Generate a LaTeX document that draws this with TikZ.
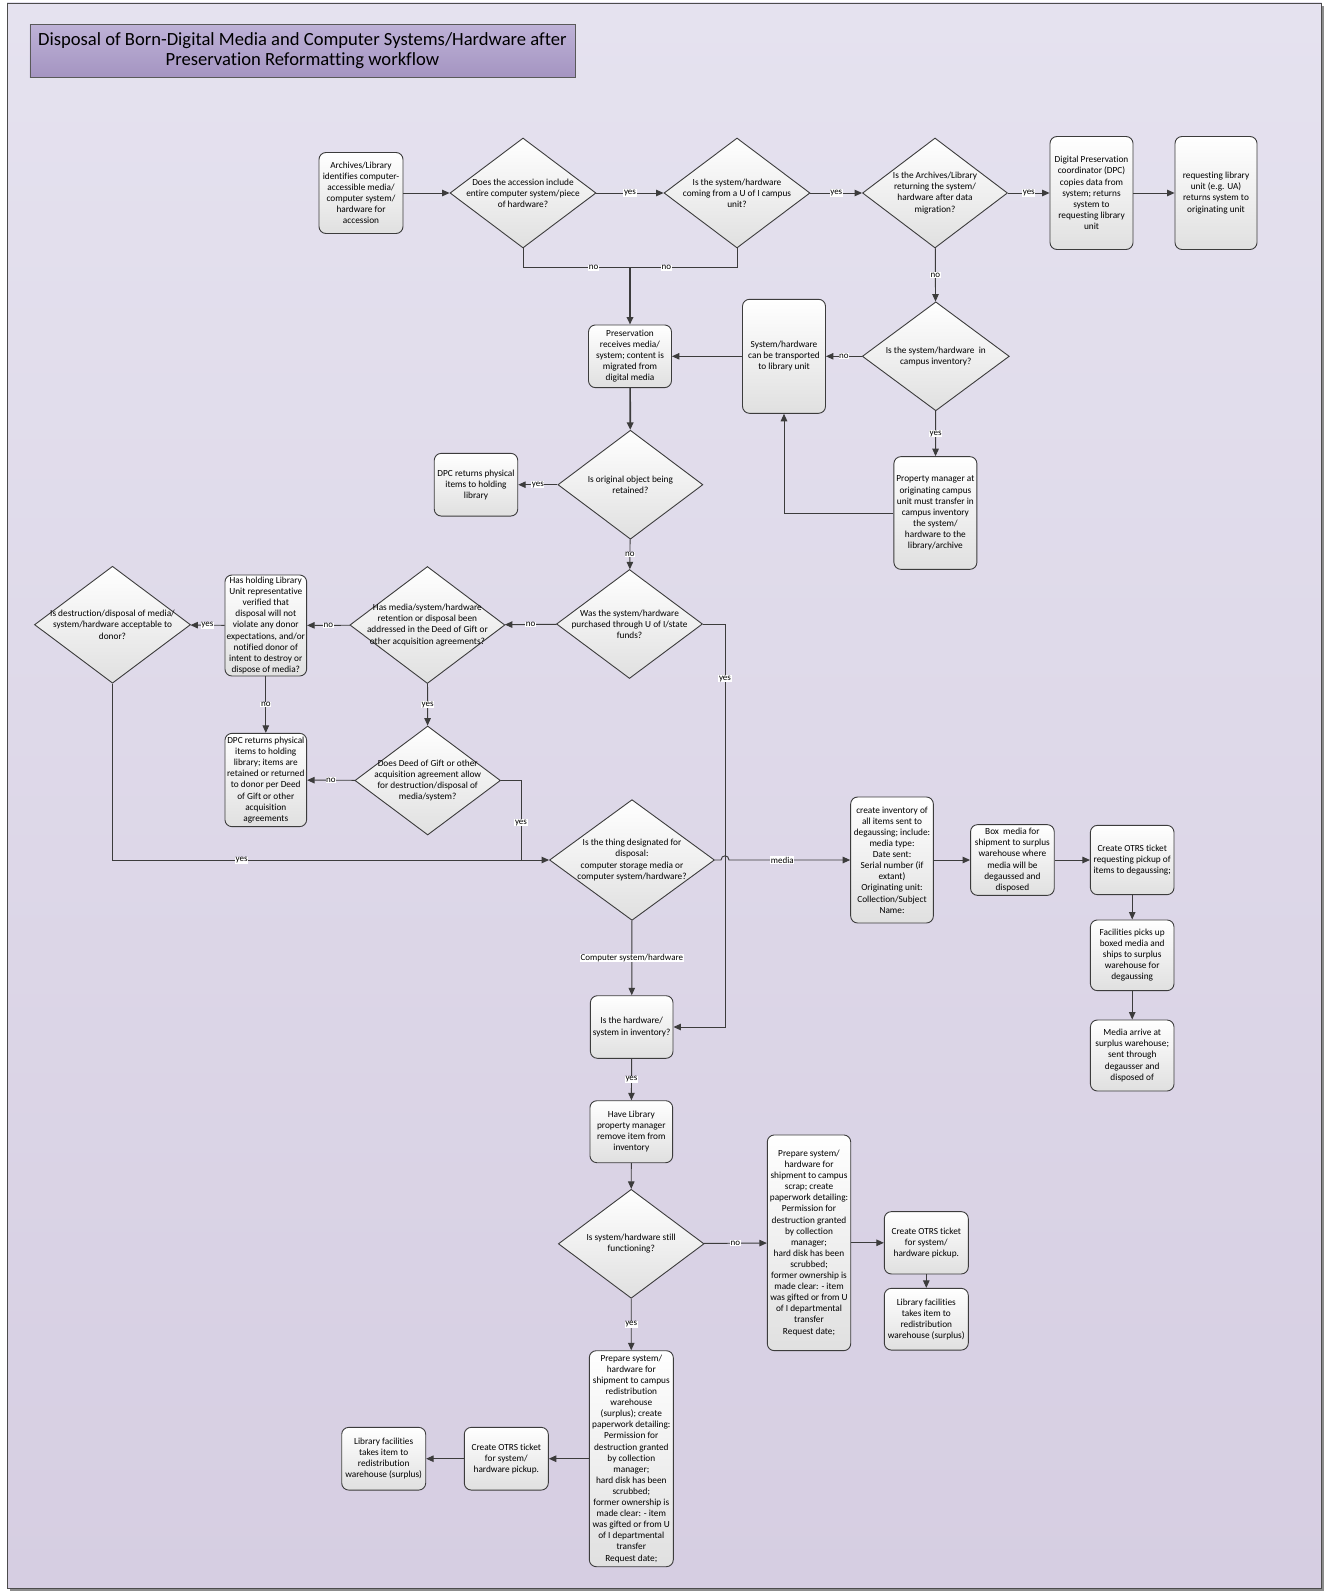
\documentclass[tikz,border=0pt]{standalone}
\usepackage{fontspec}
\setmainfont{Carlito}[Ligatures=NoCommon]
\usetikzlibrary{shapes.geometric,arrows.meta,calc}
\definecolor{bgtop}{HTML}{E5E2EF}
\definecolor{bgbot}{HTML}{D6CEE2}
\definecolor{ttop}{HTML}{BEB2D7}
\definecolor{tbot}{HTML}{A494C1}
\definecolor{edgec}{HTML}{3C3C3C}
\definecolor{nfill}{HTML}{E0E0E0}
\begin{document}
\begin{tikzpicture}[x=1pt,y=-1pt,
  every node/.style={font=\fontsize{9.3}{11.1}\selectfont, text=black},
  box/.style={draw=edgec, line width=0.9pt, rounded corners=7pt, top color=white, bottom color=nfill, align=center, inner xsep=1pt, inner ysep=2pt},
  dia/.style={diamond, draw=edgec, line width=0.9pt, top color=white, bottom color=nfill, align=center, inner xsep=-45pt, inner ysep=-25pt},
  ln/.style={draw=edgec, line width=0.95pt},
  con/.style={ln, -{Triangle[length=7.5pt,width=6.5pt]}},
  bold/.style={line width=1.7pt},
  lbl/.style={fill=white, inner sep=0.6pt, font=\fontsize{9}{10}\selectfont},
]
\useasboundingbox (0,0) rectangle (1324,1595);
% frame
\fill[black!45] (10,6) rectangle (1324,1590.5);
\path[draw=black!70, line width=0.9pt, top color=bgtop, bottom color=bgbot] (7,3) rectangle (1321.5,1588);
% title
\node[draw=black!65, line width=0.8pt, top color=ttop, bottom color=tbot, minimum width=545, minimum height=53, inner sep=0pt, align=center, font=\fontsize{18.6}{20.5}\selectfont] (title) at (302.4,50.7) {Disposal of Born-Digital Media and Computer Systems/Hardware after\\Preservation Reformatting workflow};

% row 1
\node[box, minimum width=84, minimum height=81] (n1) at (361,193) {Archives/Library\\identifies computer-\\accessible media/\\computer system/\\hardware for\\accession};
\node[dia, minimum width=146, minimum height=110] (d1) at (523,193) {Does the accession include\\entire computer system/piece\\of hardware?};
\node[dia, minimum width=146, minimum height=110] (d2) at (737,193) {Is the system/hardware\\coming from a U of I campus\\unit?};
\node[dia, minimum width=145, minimum height=110] (d3) at (935,193) {Is the Archives/Library\\returning the system/\\hardware after data\\migration?};
\node[box, minimum width=83, minimum height=113] (dpc1) at (1091.5,193) {Digital Preservation\\coordinator (DPC)\\copies data from\\system; returns\\system to\\requesting library\\unit};
\node[box, minimum width=82, minimum height=113] (req) at (1216,193) {requesting library\\unit (e.g. UA)\\returns system to\\originating unit};
\coordinate (m) at (630,267.7);

% row 2
\node[box, minimum width=83, minimum height=62.7] (pres) at (630,356.3) {Preservation\\receives media/\\system; content is\\migrated from\\digital media};
\node[box, minimum width=83, minimum height=114] (trans) at (784,356.3) {System/hardware\\can be transported\\to library unit};
\node[dia, minimum width=147, minimum height=109] (d4) at (935.8,356.3) {Is the system/hardware\ \ in\\campus inventory?};
\node[box, minimum width=83, minimum height=112.7] (prop) at (935.4,513) {Property manager at\\originating campus\\unit must transfer in\\campus inventory\\the system/\\hardware to the\\library/archive};
\node[dia, minimum width=145, minimum height=109] (d5) at (630.4,484.7) {Is original object being\\retained?};
\node[box, minimum width=83.5, minimum height=62.7] (dpcr1) at (476,484.7) {DPC returns physical\\items to holding\\library};

% row 3
\node[dia, minimum width=146, minimum height=109] (d8) at (629.5,624) {Was the system/hardware\\purchased through U of I/state\\funds?};
\node[dia, minimum width=155, minimum height=117] (d7) at (427.4,625) {Has media/system/hardware\\retention or disposal been\\addressed in the Deed of Gift or\\other acquisition agreements?};
\node[box, minimum width=81.7, minimum height=101] (hold) at (265.8,625.5) {Has holding Library\\Unit representative\\verified that\\disposal will not\\violate any donor\\expectations, and/or\\notified donor of\\intent to destroy or\\dispose of media?};
\node[dia, minimum width=156, minimum height=117] (d6) at (112.5,624.7) {Is destruction/disposal of media/\\system/hardware acceptable to\\donor?};
\node[box, minimum width=81.7, minimum height=93.3] (dpcr2) at (265.8,780) {DPC returns physical\\items to holding\\library; items are\\retained or returned\\to donor per Deed\\of Gift or other\\acquisition\\agreements};
\node[dia, minimum width=145.6, minimum height=109] (d9) at (427.7,780.5) {Does Deed of Gift or other\\acquisition agreement allow\\for destruction/disposal of\\media/system?};

% row 4
\node[dia, minimum width=165, minimum height=120.7] (d10) at (632,860) {Is the thing designated for\\disposal:\\computer storage media or\\computer system/hardware?};
\node[box, minimum width=82.7, minimum height=126] (inv) at (892,860) {create inventory of\\all items sent to\\degaussing; include:\\media type:\\Date sent:\\Serial number (if\\extant)\\Originating unit:\\Collection/Subject\\Name:};
\node[box, minimum width=83.7, minimum height=70.7] (boxm) at (1012.4,860) {Box\ \ media for\\shipment to surplus\\warehouse where\\media will be\\degaussed and\\disposed};
\node[box, minimum width=83.6, minimum height=69.3] (otrs1) at (1132.2,860) {Create OTRS ticket\\requesting pickup of\\items to degaussing;};
\node[box, minimum width=83.6, minimum height=70.7] (fac) at (1132.2,955.3) {Facilities picks up\\boxed media and\\ships to surplus\\warehouse for\\degaussing};
\node[box, minimum width=83.6, minimum height=71] (arr) at (1132.2,1055.5) {Media arrive at\\surplus warehouse;\\sent through\\degausser and\\disposed of};
\node[box, minimum width=82.6, minimum height=62.6] (ishw) at (631.7,1027) {Is the hardware/\\system in inventory?};
\node[box, minimum width=82.7, minimum height=62] (have) at (631.3,1131.7) {Have Library\\property manager\\remove item from\\inventory};
\node[dia, minimum width=145.7, minimum height=109] (d11) at (631.2,1243.8) {Is system/hardware still\\functioning?};
\node[box, minimum width=83.4, minimum height=215.7] (scrap) at (809,1242.8) {Prepare system/\\hardware for\\shipment to campus\\scrap; create\\paperwork detailing:\\Permission for\\destruction granted\\by collection\\manager;\\hard disk has been\\scrubbed;\\former ownership is\\made clear: - item\\was gifted or from U\\of I departmental\\transfer\\Request date;};
\node[box, minimum width=84, minimum height=62.3] (otrs2) at (926.3,1242.8) {Create OTRS ticket\\for system/\\hardware pickup.};
\node[box, minimum width=84, minimum height=61.7] (lf2) at (926.3,1319.2) {Library facilities\\takes item to\\redistribution\\warehouse (surplus)};
\node[box, minimum width=84, minimum height=216] (surp) at (631.3,1458.7) {Prepare system/\\hardware for\\shipment to campus\\redistribution\\warehouse\\(surplus); create\\paperwork detailing:\\Permission for\\destruction granted\\by collection\\manager;\\hard disk has been\\scrubbed;\\former ownership is\\made clear: - item\\was gifted or from U\\of I departmental\\transfer\\Request date;};
\node[box, minimum width=84, minimum height=62.7] (otrs3) at (506.3,1458.7) {Create OTRS ticket\\for system/\\hardware pickup.};
\node[box, minimum width=84, minimum height=62.7] (lf3) at (383.7,1458.7) {Library facilities\\takes item to\\redistribution\\warehouse (surplus)};

\coordinate (j) at (521,860);
\coordinate (k) at (725,624);

% connectors
\draw[con] (n1) -- (d1);
\draw[con] (d1) -- node[lbl]{yes} (d2);
\draw[con] (d2) -- node[lbl]{yes} (d3);
\draw[con] (d3) -- node[lbl]{yes} (dpc1);
\draw[con] (dpc1) -- (req);
\draw[ln] (d1.south) |- node[lbl,pos=0.83]{no} (m);
\draw[ln] (d2.south) |- node[lbl,pos=0.83]{no} (m);
\draw[con,bold] (m) -- (pres.north);
\draw[con] (d3) -- node[lbl]{no} (d4);
\draw[con] (d4) -- node[lbl]{no} (trans);
\draw[con] (d4) -- node[lbl]{yes} (prop);
\draw[con] (prop.west) -| (trans.south);
\draw[con] (trans.west) -- (pres.east);
\draw[con,bold] (pres) -- (d5);
\draw[con] (d5) -- node[lbl]{yes} (dpcr1);
\draw[con] (d5) -- node[lbl]{no} (d8);
\draw[con] (d8) -- node[lbl]{no} (d7);
\draw[con] (d7) -- node[lbl]{no} (hold);
\draw[con] (hold) -- node[lbl]{yes} (d6);
\draw[con] (hold) -- node[lbl]{no} (dpcr2);
\draw[con] (d7) -- node[lbl]{yes} (d9);
\draw[con] (d9) -- node[lbl]{no} (dpcr2);
\draw[ln] (d9.east) -| node[lbl,pos=0.767]{yes} (j);
\draw[ln] (d6.south) |- node[lbl,pos=0.658]{yes} (j);
\draw[con] (j) -- (d10.west);
\draw[con] (d8.east) -- (k) |- node[lbl,pos=0.068]{yes} (ishw.east);
\draw[con] (d10.east) -- (721,860) .. controls (721,854.5) and (729,854.5) .. (729,860) -- node[lbl,pos=0.44]{media} (inv.west);
\draw[con] (inv) -- (boxm);
\draw[con] (boxm) -- (otrs1);
\draw[con] (otrs1) -- (fac);
\draw[con] (fac) -- (arr);
\draw[con] (d10) -- node[lbl]{Computer system/hardware} (ishw);
\draw[con] (ishw) -- node[lbl]{yes} (have);
\draw[con] (have) -- (d11);
\draw[con] (d11) -- node[lbl]{no} (scrap);
\draw[con] (scrap) -- (otrs2);
\draw[con] (otrs2) -- (lf2);
\draw[con] (d11) -- node[lbl]{yes} (surp);
\draw[con] (surp) -- (otrs3);
\draw[con] (otrs3) -- (lf3);
\end{tikzpicture}
\end{document}
